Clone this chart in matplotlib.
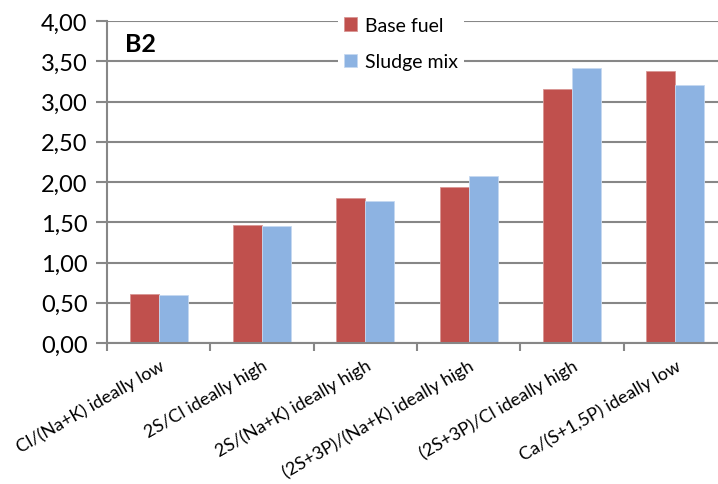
import matplotlib
matplotlib.use('Agg')
from matplotlib import pyplot as plt
import numpy as np

plt.rcParams['font.family'] = ['Lato', 'DejaVu Sans']

categories = ['Cl/(Na+K) ideally low', '2S/Cl ideally high', '2S/(Na+K) ideally high',
              '(2S+3P)/(Na+K) ideally high', '(2S+3P)/Cl ideally high', 'Ca/(S+1,5P) ideally low']
base_fuel = [0.61, 1.47, 1.80, 1.94, 3.16, 3.38]
sludge_mix = [0.60, 1.45, 1.76, 2.07, 3.41, 3.20]
y_ticks = [0.0, 0.5, 1.0, 1.5, 2.0, 2.5, 3.0, 3.5, 4.0]

red = '#C0504D'
blue = '#8DB3E2'
grey = '#878787'

fig = plt.figure(figsize=(7.18, 4.85), dpi=100)
ax = fig.add_axes([107 / 718, 141 / 485, 620 / 718, 322 / 485])

x = np.arange(len(categories))
w = 0.28
ax.bar(x - w / 2, base_fuel, w, color=red, edgecolor='#D99694', linewidth=0.6, label='Base fuel', zorder=3)
ax.bar(x + w / 2, sludge_mix, w, color=blue, edgecolor='#C6D9F1', linewidth=0.6, label='Sludge mix', zorder=3)

ax.set_xlim(-0.5, len(categories) - 0.5)
ax.set_ylim(0, 4)
ax.set_yticks(y_ticks)
ax.set_yticklabels([('%.2f' % v).replace('.', ',') for v in y_ticks], fontsize=17)
ax.yaxis.grid(True, color=grey, linewidth=1.5, zorder=0)

ax.set_xticks(x)
ax.set_xticklabels(categories, rotation=30, ha='right', rotation_mode='anchor', fontsize=13)
ax.set_xticks(np.arange(len(categories) + 1) - 0.5, minor=True)
ax.tick_params(axis='x', which='major', length=0, pad=10)
ax.tick_params(axis='x', which='minor', length=6, width=1.5, color=grey)
ax.tick_params(axis='y', length=8, width=1.5, color=grey, pad=6)

for side in ['top', 'right']:
    ax.spines[side].set_visible(False)
for side in ['left', 'bottom']:
    ax.spines[side].set_color(grey)
    ax.spines[side].set_linewidth(1.5)
ax.spines['left'].set_zorder(4)
ax.spines['bottom'].set_zorder(4)

ax.text(125 / 718, 1 - 45 / 485, 'B2', transform=fig.transFigure, fontsize=18,
        fontweight='bold', va='center', ha='left')

leg = ax.legend(loc='upper left', bbox_to_anchor=(338 / 718, 1 - 12 / 485),
                bbox_transform=fig.transFigure, fontsize=14, frameon=True,
                fancybox=False, edgecolor='none', facecolor='white', framealpha=1,
                handlelength=0.7, handleheight=0.7, handletextpad=0.4,
                labelspacing=1.0, borderaxespad=0, borderpad=0.3)
leg.set_zorder(5)

fig.savefig('out.png', dpi=100)
